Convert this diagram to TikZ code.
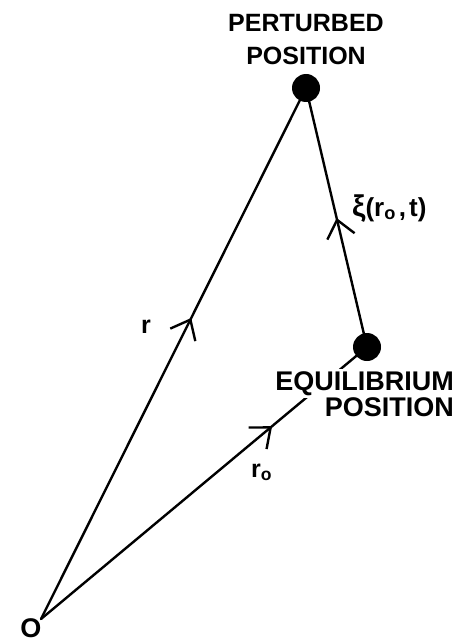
\documentclass[tikz,border=0pt]{standalone}
\usepackage{fontspec}
\setmainfont{Liberation Sans}
\usetikzlibrary{arrows.meta,decorations.markings}
\begin{document}
\begin{tikzpicture}[x=1pt,y=-1pt,
  vec/.style={line width=2.4pt,line cap=round},
  midarrow/.style={postaction={decorate},decoration={markings,
     mark=at position #1 with {\arrow{Straight Barb[length=17pt,width=28pt,line width=2.4pt]}}}},
  dot/.style={circle,fill=black,inner sep=0pt,minimum size=28pt},
  lab/.style={inner sep=0pt,font=\fontsize{25}{30}\selectfont\bfseries},
  eqlab/.style={inner sep=0pt,font=\fontsize{27}{30}\selectfont\bfseries}
]
\useasboundingbox (0,0) rectangle (453,644);
\coordinate (O) at (41,619);
\coordinate (Pc) at (306,88);
\coordinate (Ec) at (367,347);
\draw[vec,midarrow=0.567] (O) -- (Pc);
\draw[vec,midarrow=0.709] (O) -- (Ec);
\draw[vec,midarrow=0.498] (Ec) -- (Pc);
\node[dot] (P) at (Pc) {};
\node[dot] (E) at (Ec) {};
\node[lab,anchor=base] (pt1) at (306,32) {PERTURBED};
\node[lab,anchor=base] (pt2) at (306,65) {POSITION};
\node[eqlab,anchor=base east,fill=white,inner xsep=4pt,inner ysep=2.5pt] (eq1) at (458,390) {EQUILIBRIUM};
\node[eqlab,anchor=base east] (eq2) at (454,416) {POSITION};
\node[lab,anchor=base] (rl) at (146,333) {r};
\node[lab,anchor=base west] (r0) at (251,477) {r\textsubscript{o}};
\node[inner sep=0pt,anchor=base west,font=\fontsize{26}{30}\selectfont\bfseries] (xi) at (352,216) {{\fontsize{30}{30}\selectfont ξ}(r\textsubscript{o}\kern3pt,\kern3pt t)};
\node[inner sep=0pt,anchor=base,font=\fontsize{27}{30}\selectfont\bfseries] (ol) at (31,637) {O};
\end{tikzpicture}
\end{document}
